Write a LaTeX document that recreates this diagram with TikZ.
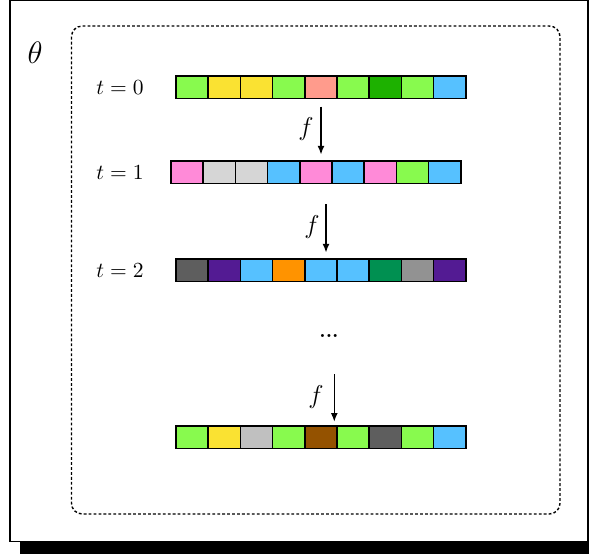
\documentclass[tikz,border=0pt]{standalone}
\usetikzlibrary{arrows.meta}

% cell palette
\definecolor{lime}{HTML}{88FA4E}
\definecolor{lemon}{HTML}{FAE232}
\definecolor{salmon}{HTML}{FF9B8C}
\definecolor{clover}{HTML}{1DB100}
\definecolor{sky}{HTML}{56C1FF}
\definecolor{carnation}{HTML}{FF8AD8}
\definecolor{mercury}{HTML}{D6D6D6}
\definecolor{iron}{HTML}{5E5E5E}
\definecolor{grape}{HTML}{531B93}
\definecolor{tangerine}{HTML}{FF9300}
\definecolor{moss}{HTML}{009051}
\definecolor{steel}{HTML}{929292}
\definecolor{silver}{HTML}{C0C0C0}
\definecolor{mocha}{HTML}{945200}

\tikzset{
  cell/.style={draw=black, line width=0.7pt, minimum width=14.97pt,
    minimum height=10.35pt, inner sep=0pt, outer sep=0pt, anchor=north west},
  steplabel/.style={inner sep=0pt},
  maparrow/.style={line width=0.6pt, -{Latex[length=4pt,width=3.2pt]}},
  maplabel/.style={inner sep=0pt, font=\large},
  paramframe/.style={line width=0.65pt, dash pattern=on 1.3pt off 1pt,
    rounded corners=5pt},
}

\begin{document}
\begin{tikzpicture}[x=0.465pt, y=-0.465pt]
  \useasboundingbox (0,0) rectangle (589,554);

  % outer frame with its heavy bottom bar
  \fill[black] (20,542) rectangle (589,554);
  \draw[line width=0.6pt] (10,0.6) rectangle (588,541.5);

  % parameter region
  \draw[paramframe] (71.5,26) rectangle (560,514);
  \node[inner sep=0pt, font=\Large] (theta) at (35,53) {$\theta$};

  % sequences of cells, one row per step
  \foreach \row/\x/\y/\cols in {
      0/176/76/{lime,lemon,lemon,lime,salmon,lime,clover,lime,sky},
      1/171/161/{carnation,mercury,mercury,sky,carnation,sky,carnation,lime,sky},
      2/176/259/{iron,grape,sky,tangerine,sky,sky,moss,steel,grape},
      3/176/426/{lime,lemon,silver,lime,mocha,lime,iron,lime,sky}} {
    \foreach \c [count=\i from 0] in \cols {
      \node[cell, fill=\c] (r\row c\i) at (\x+\i*32.2,\y) {};
    }
  }

  % step labels
  \node[steplabel] (t0) at (120,88) {$t=0$};
  \node[steplabel] (t1) at (120,173) {$t=1$};
  \node[steplabel] (t2) at (120,271) {$t=2$};

  % update map between consecutive steps
  \coordinate (a0s) at (321,106.7);
  \coordinate (a0e) at (321,154.5);
  \coordinate (a1s) at (326,204);
  \coordinate (a1e) at (326,252.5);
  \coordinate (a2s) at (334.3,374);
  \coordinate (a2e) at (334.3,421.7);
  \draw[maparrow] (a0s) -- (a0e);
  \draw[maparrow] (a1s) -- (a1e);
  \draw[maparrow] (a2s) -- (a2e);
  \node[maplabel] (f0) at (306,129) {$f$};
  \node[maplabel] (f1) at (312,227) {$f$};
  \node[maplabel] (f2) at (316,397) {$f$};

  % elided steps
  \node[inner sep=0pt, font=\small\bfseries] (dots) at (329,336) {...};
\end{tikzpicture}
\end{document}
